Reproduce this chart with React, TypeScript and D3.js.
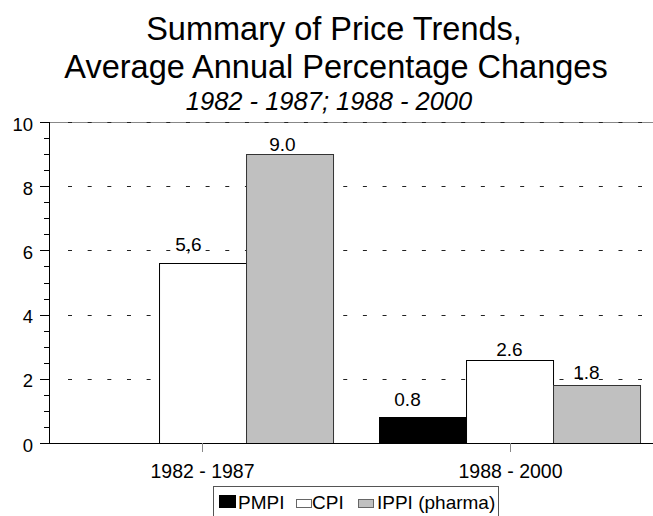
import { useEffect, useRef } from "react";
import * as d3 from "d3";

const periods = ["1982 - 1987", "1988 - 2000"];
const seriesNames = ["PMPI", "CPI", "IPPI (pharma)"];
const pmpiValues = [0, 0.8];
const cpiValues = [5.6, 2.6];
const ippiValues = [9.0, 1.8];
const valueLabels = [
  ["", "5,6", "9.0"],
  ["0.8", "2.6", "1.8"],
];
const yTicks = [0, 2, 4, 6, 8, 10];
const seriesColors = ["#000000", "#ffffff", "#c0c0c0"];

// label nudges as placed in the original chart (px)
const labelDx = [
  [0, -14, -7],
  [-15, 0, -10],
];
const labelGap = [
  [4, 12, 3],
  [11, 4, 6],
];

const W = 653;
const H = 516;
const FONT = "'Liberation Sans', Arial, sans-serif";

const App = () => {
  const svgRef = useRef<SVGSVGElement>(null);

  useEffect(() => {
    if (!svgRef.current) return;
    const svg = d3.select(svgRef.current);
    svg.selectAll("*").remove();

    const axisX = 49;
    const top = 122;
    const bottom = 443;

    const y = d3.scaleLinear().domain([0, 10]).range([bottom, top]);
    const x0 = d3
      .scaleBand<string>()
      .domain(periods)
      .range([axisX, 663])
      .paddingInner(0.15)
      .paddingOuter(0.075);
    const x1 = d3
      .scaleBand<string>()
      .domain(seriesNames)
      .range([0, x0.bandwidth()]);

    const allValues = [pmpiValues, cpiValues, ippiValues];

    // titles
    const title = svg
      .append("g")
      .attr("font-family", FONT)
      .attr("text-anchor", "middle")
      .attr("fill", "#000");
    title
      .append("text")
      .attr("x", 334)
      .attr("y", 40)
      .attr("font-size", 32.5)
      .text("Summary of Price Trends,");
    title
      .append("text")
      .attr("x", 336)
      .attr("y", 78)
      .attr("font-size", 32.5)
      .text("Average Annual Percentage Changes");
    title
      .append("text")
      .attr("x", 329)
      .attr("y", 110)
      .attr("font-size", 25.5)
      .attr("font-style", "italic")
      .text("1982 - 1987; 1988 - 2000");

    // grid
    svg
      .append("line")
      .attr("x1", 40)
      .attr("x2", W)
      .attr("y1", top + 0.5)
      .attr("y2", top + 0.5)
      .attr("stroke", "#888");
    svg
      .append("g")
      .selectAll("line")
      .data(yTicks.filter((t) => t > 0))
      .join("line")
      .attr("x1", 68)
      .attr("x2", 642)
      .attr("y1", (d) => Math.round(y(d)) + 0.5)
      .attr("y2", (d) => Math.round(y(d)) + 0.5)
      .attr("stroke", "#222")
      .attr("stroke-dasharray", "4 15.66");

    // bars
    const groups = svg
      .append("g")
      .selectAll("g")
      .data(periods)
      .join("g")
      .attr("transform", (d) => `translate(${x0(d)},0)`);

    groups
      .selectAll("rect")
      .data((_, i) => seriesNames.map((s, k) => ({ s, k, v: allValues[k][i] })))
      .join("rect")
      .attr("x", (d) => Math.round(x1(d.s)!) + 0.5)
      .attr("y", (d) => Math.round(y(d.v)) + 0.5)
      .attr("width", Math.round(x1.bandwidth()))
      .attr("height", (d) => Math.max(0, Math.round(y(0)) - Math.round(y(d.v))))
      .attr("fill", (d) => seriesColors[d.k])
      .attr("stroke", (d) => (d.k === 2 ? "#333" : "#000"))
      .attr("stroke-width", 1);

    groups
      .selectAll("text")
      .data((_, i) =>
        seriesNames.map((s, k) => ({
          s,
          v: allValues[k][i],
          l: valueLabels[i][k],
          dx: labelDx[i][k],
          gap: labelGap[i][k],
        })),
      )
      .join("text")
      .attr("x", (d) => x1(d.s)! + x1.bandwidth() / 2 + d.dx)
      .attr("y", (d) => y(d.v) - d.gap)
      .attr("text-anchor", "middle")
      .attr("font-family", FONT)
      .attr("font-size", 19)
      .text((d) => d.l);

    // y axis
    const yAxis = svg.append("g").attr("stroke", "#000");
    yAxis
      .append("line")
      .attr("x1", axisX + 0.5)
      .attr("x2", axisX + 0.5)
      .attr("y1", top)
      .attr("y2", bottom);
    yAxis
      .selectAll("line.minor")
      .data(d3.range(0, 10.01, 0.5))
      .join("line")
      .attr("class", "minor")
      .attr("x1", (d) => (d % 2 === 0 ? 40 : 44))
      .attr("x2", axisX)
      .attr("y1", (d) => Math.round(y(d)) + 0.5)
      .attr("y2", (d) => Math.round(y(d)) + 0.5);
    svg
      .append("g")
      .selectAll("text")
      .data(yTicks)
      .join("text")
      .attr("x", 33)
      .attr("y", (d) => y(d) + 8.5)
      .attr("text-anchor", "end")
      .attr("font-family", FONT)
      .attr("font-size", 18.5)
      .text((d) => d);

    // x axis
    svg
      .append("line")
      .attr("x1", 40)
      .attr("x2", W)
      .attr("y1", bottom + 0.5)
      .attr("y2", bottom + 0.5)
      .attr("stroke", "#000");
    const xt = svg
      .append("g")
      .selectAll("g")
      .data(periods)
      .join("g")
      .attr("transform", (d) => `translate(${Math.round(x0(d)! + x0.bandwidth() / 2) + 0.5},0)`);
    xt.append("line")
      .attr("y1", bottom)
      .attr("y2", bottom + 9)
      .attr("stroke", "#888");
    xt.append("text")
      .attr("y", 478)
      .attr("text-anchor", "middle")
      .attr("font-family", FONT)
      .attr("font-size", 19.5)
      .text((d) => d);

    // legend
    const lg = svg.append("g").attr("transform", "translate(213,486)");
    lg.append("rect")
      .attr("x", 0.5)
      .attr("y", 0.5)
      .attr("width", 285)
      .attr("height", 40)
      .attr("fill", "#fff")
      .attr("stroke", "#555");
    const swatchX = [6, 83, 145];
    const textX = [25, 99, 164];
    const items = lg
      .selectAll("g")
      .data(seriesNames)
      .join("g");
    items
      .append("rect")
      .attr("x", (_, i) => swatchX[i] + 0.5)
      .attr("y", (_, i) => (i === 0 ? 9.5 : 13.5))
      .attr("width", (_, i) => (i === 0 ? 16 : 15))
      .attr("height", (_, i) => (i === 0 ? 12 : 8))
      .attr("fill", (_, i) => seriesColors[i])
      .attr("stroke", (_, i) => (i === 0 ? "#000" : "#666"));
    items
      .append("text")
      .attr("x", (_, i) => textX[i])
      .attr("y", 22.5)
      .attr("font-family", FONT)
      .attr("font-size", 19)
      .text((d) => d);
  }, []);

  return (
    <svg
      ref={svgRef}
      width={W}
      height={H}
      style={{ position: "absolute", left: 0, top: 0, background: "#fff" }}
    />
  );
};

export default App;
